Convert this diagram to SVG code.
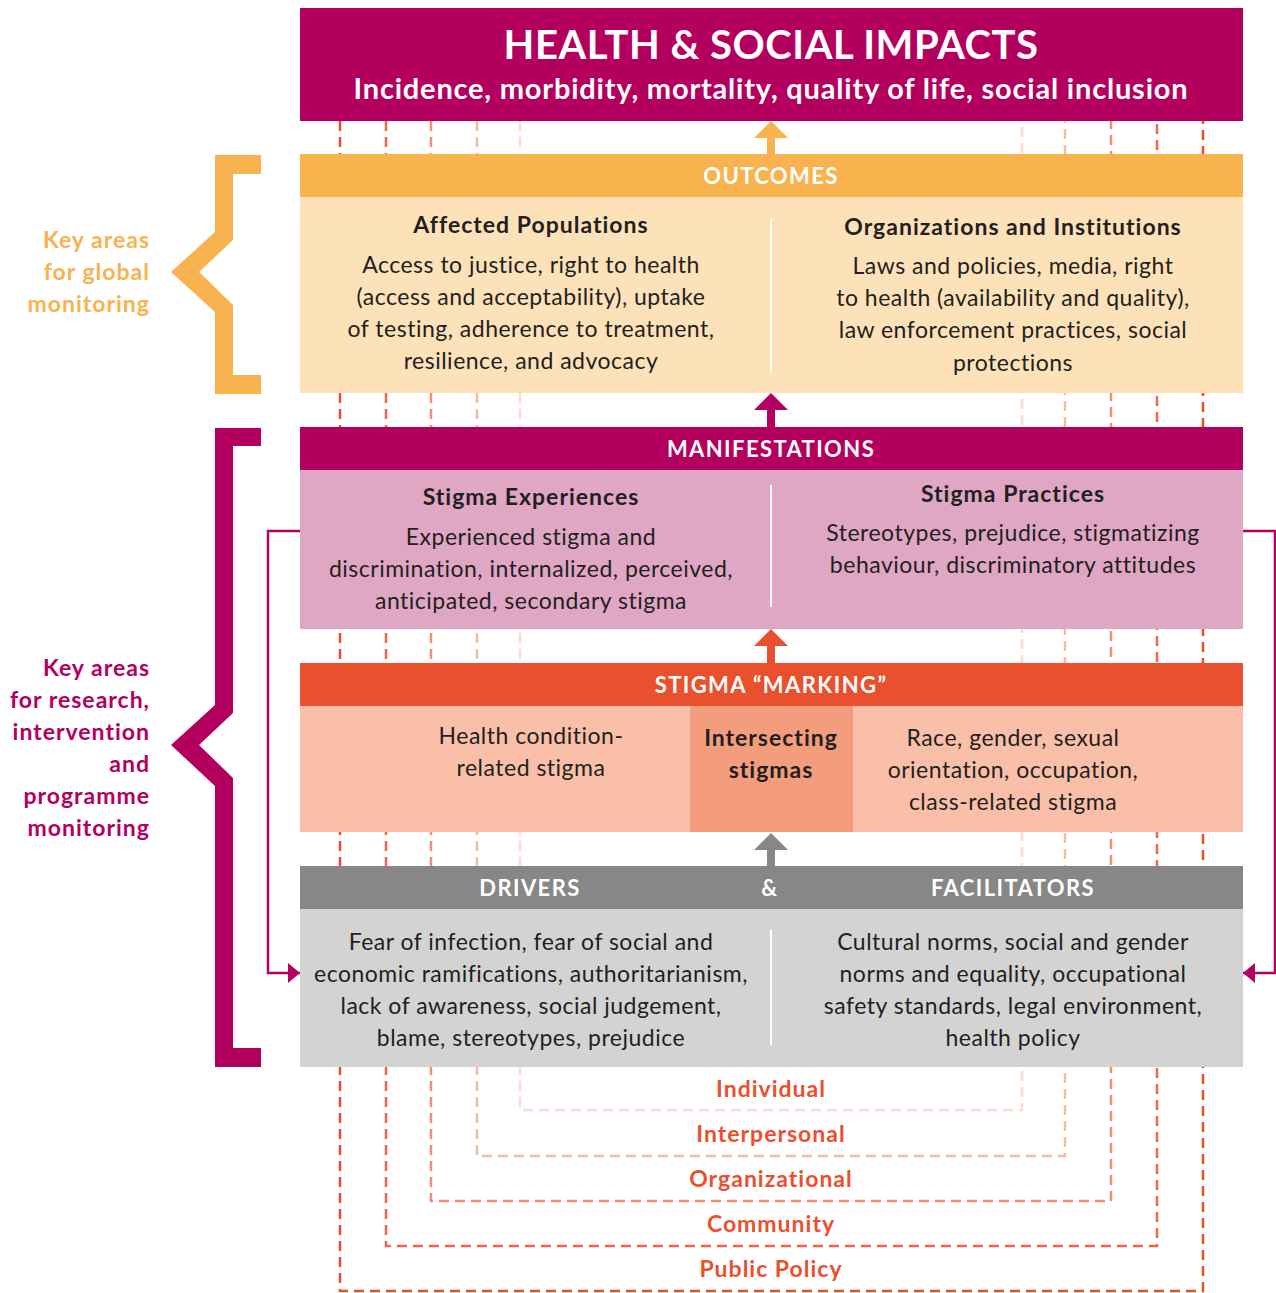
<svg xmlns="http://www.w3.org/2000/svg" width="1276" height="1293" viewBox="0 0 1276 1293">
<style>
text{font-family:Lato,"Liberation Sans",sans-serif;}
.t{font-size:23px;letter-spacing:0.5px;fill:#231f20;text-anchor:middle;}
.hd{font-size:23px;letter-spacing:1px;fill:#231f20;text-anchor:middle;font-weight:700;}
.hw{font-size:22px;letter-spacing:1.4px;fill:#fff;text-anchor:middle;font-weight:700;}
.lv{font-size:23px;letter-spacing:1px;fill:#e9502e;text-anchor:middle;font-weight:700;}
.side{font-size:23px;letter-spacing:1px;text-anchor:end;font-weight:700;}
.dl{fill:none;stroke-width:2.5;stroke-dasharray:10 6;}
.div{stroke:#fff;stroke-width:2;}
</style>
<defs>
<marker id="ah" viewBox="0 0 12 20" refX="12" refY="10" markerWidth="12" markerHeight="20" markerUnits="userSpaceOnUse" orient="auto"><path d="M0,0 L12,10 L0,20 Z" fill="#b3005e"/></marker>
</defs>
<rect width="1276" height="1293" fill="#fff"/>
<g id="levels">
<path class="dl" stroke="#fcdccd" d="M520,121 V1110 H1022 V121"/>
<path class="dl" stroke="#f7b9a0" d="M477,121 V1156 H1065 V121"/>
<path class="dl" stroke="#f28e6b" d="M431,121 V1201 H1111 V121"/>
<path class="dl" stroke="#ee6945" d="M386,121 V1246 H1157 V121"/>
<path class="dl" stroke="#e84e2c" d="M340,121 V1291 H1203 V121"/>
<text class="lv" x="771" y="1097">Individual</text>
<text class="lv" x="771" y="1142">Interpersonal</text>
<text class="lv" x="771" y="1187">Organizational</text>
<text class="lv" x="771" y="1232">Community</text>
<text class="lv" x="771" y="1277">Public Policy</text>
</g>
<g id="connectors">
<path d="M771,121 L788,138 L775,138 L775,154 L767,154 L767,138 L754,138 Z" fill="#f8b24e"/>
<path d="M771,393 L788,410 L775,410 L775,427 L767,427 L767,410 L754,410 Z" fill="#b3005e"/>
<path d="M771,629 L788,646 L775,646 L775,663 L767,663 L767,646 L754,646 Z" fill="#e9502e"/>
<path d="M771,833 L788,850 L775,850 L775,866 L767,866 L767,850 L754,850 Z" fill="#878787"/>
<path d="M300,531 H268 V973 H300" fill="none" stroke="#b3005e" stroke-width="2.5" marker-end="url(#ah)"/>
<path d="M1243,531 H1275 V973 H1243" fill="none" stroke="#b3005e" stroke-width="2.5" marker-end="url(#ah)"/>
</g>
<g id="impacts">
<rect x="300" y="8" width="943" height="113" fill="#b3005e"/>
<text x="771" y="59" fill="#fff" font-size="40" letter-spacing="0.5" font-weight="700" text-anchor="middle">HEALTH &amp; SOCIAL IMPACTS</text>
<text x="771" y="99" fill="#fff" font-size="29" letter-spacing="0.8" font-weight="700" text-anchor="middle">Incidence, morbidity, mortality, quality of life, social inclusion</text>
</g>
<g id="outcomes">
<rect x="300" y="154" width="943" height="43" fill="#f8b24e"/>
<rect x="300" y="197" width="943" height="196" fill="#fde1b8"/>
<text class="hw" x="771" y="184">OUTCOMES</text>
<line class="div" x1="771" y1="218" x2="771" y2="373"/>
<text class="hd" x="531" y="233">Affected Populations</text>
<text class="t" x="531" y="273">Access to justice, right to health</text>
<text class="t" x="531" y="305">(access and acceptability), uptake</text>
<text class="t" x="531" y="337">of testing, adherence to treatment,</text>
<text class="t" x="531" y="369">resilience, and advocacy</text>
<text class="hd" x="1013" y="235">Organizations and Institutions</text>
<text class="t" x="1013" y="274">Laws and policies, media, right</text>
<text class="t" x="1013" y="306">to health (availability and quality),</text>
<text class="t" x="1013" y="338">law enforcement practices, social</text>
<text class="t" x="1013" y="371">protections</text>
</g>
<g id="manifestations">
<rect x="300" y="427" width="943" height="43" fill="#b3005e"/>
<rect x="300" y="470" width="943" height="159" fill="#dfa7c4"/>
<text class="hw" x="771" y="457">MANIFESTATIONS</text>
<line class="div" x1="771" y1="485" x2="771" y2="607"/>
<text class="hd" x="531" y="505">Stigma Experiences</text>
<text class="t" x="531" y="545">Experienced stigma and</text>
<text class="t" x="531" y="577">discrimination, internalized, perceived,</text>
<text class="t" x="531" y="609">anticipated, secondary stigma</text>
<text class="hd" x="1013" y="502">Stigma Practices</text>
<text class="t" x="1013" y="541">Stereotypes, prejudice, stigmatizing</text>
<text class="t" x="1013" y="573">behaviour, discriminatory attitudes</text>
</g>
<g id="marking">
<rect x="300" y="663" width="943" height="43" fill="#e9502e"/>
<rect x="300" y="706" width="943" height="126" fill="#f9bfa8"/>
<rect x="690" y="706" width="163" height="126" fill="#f39d7c"/>
<text class="hw" x="771" y="693">STIGMA “MARKING”</text>
<text class="t" x="531" y="744">Health condition-</text>
<text class="t" x="531" y="776">related stigma</text>
<text class="hd" x="771" y="746">Intersecting</text>
<text class="hd" x="771" y="778">stigmas</text>
<text class="t" x="1013" y="746">Race, gender, sexual</text>
<text class="t" x="1013" y="778">orientation, occupation,</text>
<text class="t" x="1013" y="810">class-related stigma</text>
</g>
<g id="drivers">
<rect x="300" y="866" width="943" height="43" fill="#878787"/>
<rect x="300" y="909" width="943" height="158" fill="#d3d3d3"/>
<text class="hw" x="530" y="896">DRIVERS</text>
<text class="hw" x="770" y="896">&amp;</text>
<text class="hw" x="1013" y="896">FACILITATORS</text>
<line class="div" x1="771" y1="930" x2="771" y2="1045"/>
<text class="t" x="531" y="950">Fear of infection, fear of social and</text>
<text class="t" x="531" y="982">economic ramifications, authoritarianism,</text>
<text class="t" x="531" y="1014">lack of awareness, social judgement,</text>
<text class="t" x="531" y="1046">blame, stereotypes, prejudice</text>
<text class="t" x="1013" y="950">Cultural norms, social and gender</text>
<text class="t" x="1013" y="982">norms and equality, occupational</text>
<text class="t" x="1013" y="1014">safety standards, legal environment,</text>
<text class="t" x="1013" y="1046">health policy</text>
</g>
<g id="bracket-global">
<path d="M261,155 H215 V232 L171,272 L215,312 V394 H261 V375 H233 V305 L199,272 L233,240 V174 H261 Z" fill="#f8b24e"/>
<text class="side" fill="#f8b24e" x="150" y="248">Key areas</text>
<text class="side" fill="#f8b24e" x="150" y="280">for global</text>
<text class="side" fill="#f8b24e" x="150" y="312">monitoring</text>
</g>
<g id="bracket-research">
<path d="M261,428 H215 V705 L171,745 L215,786 V1067 H261 V1048 H233 V778 L199,745 L233,713 V446 H261 Z" fill="#b3005e"/>
<text class="side" fill="#b3005e" x="150" y="676">Key areas</text>
<text class="side" fill="#b3005e" x="150" y="708">for research,</text>
<text class="side" fill="#b3005e" x="150" y="740">intervention</text>
<text class="side" fill="#b3005e" x="150" y="772">and</text>
<text class="side" fill="#b3005e" x="150" y="804">programme</text>
<text class="side" fill="#b3005e" x="150" y="836">monitoring</text>
</g>
</svg>
